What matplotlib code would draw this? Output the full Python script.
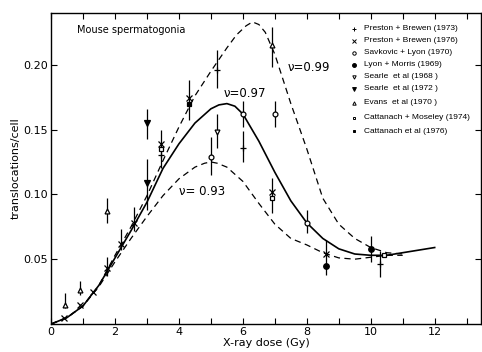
import matplotlib
matplotlib.use("Agg")
import matplotlib.pyplot as plt

# model curves (dose in Gy, translocations/cell)
dose_99 = [0, 0.5, 1, 1.5, 2, 2.5, 3, 3.5, 4, 4.5, 5, 5.5, 5.8, 6.1, 6.3, 6.5, 6.7, 7, 7.5, 8, 8.5, 9, 9.5, 10, 10.5, 11]
trans_99 = [0, 0.005, 0.014, 0.030, 0.053, 0.075, 0.099, 0.126, 0.152, 0.176, 0.195, 0.213, 0.223, 0.230, 0.233, 0.231, 0.225, 0.208, 0.170, 0.135, 0.097, 0.077, 0.066, 0.059, 0.055, 0.054]

dose_97 = [0, 0.5, 1, 1.5, 2, 2.5, 3, 3.5, 4, 4.5, 5, 5.25, 5.5, 5.75, 6, 6.5, 7, 7.5, 8, 8.5, 9, 9.5, 10, 10.5, 11, 11.5, 12]
trans_97 = [0, 0.005, 0.014, 0.030, 0.051, 0.072, 0.094, 0.120, 0.139, 0.155, 0.166, 0.169, 0.170, 0.168, 0.162, 0.141, 0.117, 0.095, 0.078, 0.066, 0.058, 0.054, 0.053, 0.053, 0.055, 0.057, 0.059]

dose_93 = [0, 0.5, 1, 1.5, 2, 2.5, 3, 3.5, 4, 4.5, 4.8, 5, 5.2, 5.5, 6, 6.5, 7, 7.5, 8, 8.5, 9, 9.5, 10, 10.5, 11]
trans_93 = [0, 0.005, 0.014, 0.029, 0.048, 0.066, 0.083, 0.099, 0.112, 0.121, 0.124, 0.125, 0.124, 0.121, 0.110, 0.093, 0.077, 0.066, 0.061, 0.055, 0.051, 0.050, 0.0515, 0.053, 0.053]

# error bars: dose, low, high
err_dose = [0.45, 0.9, 1.75, 1.75, 2.2, 2.6, 3.0, 3.0, 3.45, 4.3, 5.0, 5.2, 5.2, 6.0, 6.0, 6.9, 7.0, 6.9, 8.0, 8.6, 10.0, 10.3]
err_low = [0.012, 0.022, 0.078, 0.037, 0.057, 0.072, 0.143, 0.088, 0.120, 0.157, 0.115, 0.182, 0.136, 0.152, 0.125, 0.198, 0.152, 0.086, 0.070, 0.038, 0.048, 0.036]
err_high = [0.024, 0.033, 0.097, 0.052, 0.073, 0.090, 0.166, 0.127, 0.150, 0.188, 0.144, 0.211, 0.162, 0.172, 0.149, 0.229, 0.172, 0.113, 0.088, 0.065, 0.068, 0.056]

# data points per study
pb73_x = [3.45, 5.2, 6.0, 10.3]
pb73_y = [0.130, 0.196, 0.136, 0.046]
pb76_x = [0.4, 0.9, 1.3, 1.75, 2.2, 2.6, 3.45, 4.3, 6.9, 8.6]
pb76_y = [0.005, 0.0146, 0.025, 0.043, 0.062, 0.078, 0.139, 0.174, 0.102, 0.054]
sav_x = [5.0, 6.0, 7.0, 8.0]
sav_y = [0.129, 0.162, 0.162, 0.078]
lyon_x = [8.6, 10.0]
lyon_y = [0.045, 0.0577]
s68_x = [5.2]
s68_y = [0.148]
s72_x = [3.0, 3.0]
s72_y = [0.155, 0.109]
evans_x = [0.45, 0.9, 1.75, 6.9]
evans_y = [0.015, 0.026, 0.087, 0.215]
cm74_x = [3.45, 6.9, 10.4]
cm74_y = [0.135, 0.097, 0.053]
c76_x = [4.3]
c76_y = [0.170]

legend_labels = [
    "Preston + Brewen (1973)",
    "Preston + Brewen (1976)",
    "Savkovic + Lyon (1970)",
    "Lyon + Morris (1969)",
    "Searle  et al (1968 )",
    "Searle  et al (1972 )",
    "Evans  et al (1970 )",
    "Cattanach + Moseley (1974)",
    "Cattanach et al (1976)",
]

fig = plt.figure(figsize=(4.82, 3.52), dpi=100)
ax = fig.add_axes([0.106, 0.0795, 0.892, 0.884])

ax.plot(dose_99, trans_99, color="black", lw=0.9, dashes=(5, 3.5))
ax.plot(dose_97, trans_97, color="black", lw=1.2)
ax.plot(dose_93, trans_93, color="black", lw=0.9, dashes=(5, 3.5))

ax.vlines(err_dose, err_low, err_high, color="black", lw=0.9)

styles = [
    (pb73_x, pb73_y, "+", "black", 5),
    (pb76_x, pb76_y, "x", "black", 4),
    (sav_x, sav_y, "o", "white", 3.5),
    (lyon_x, lyon_y, "o", "black", 4),
    (s68_x, s68_y, "v", "white", 3.5),
    (s72_x, s72_y, "v", "black", 4),
    (evans_x, evans_y, "^", "white", 3.5),
    (cm74_x, cm74_y, "s", "white", 3),
    (c76_x, c76_y, "s", "black", 3),
]
for xs, ys, m, fc, ms in styles:
    ax.plot(xs, ys, ls="none", marker=m, mfc=fc, mec="black", color="black", ms=ms, mew=0.9)

# legend drawn by hand, as in the original
leg_y = [0.2277, 0.2185, 0.2092, 0.2000, 0.1908, 0.1815, 0.1708, 0.1592, 0.1485]
for (xs, ys, m, fc, ms), lab, ly in zip(styles, legend_labels, leg_y):
    ax.plot([9.47], [ly], ls="none", marker=m, mfc=fc, mec="black", ms=ms * 0.7, mew=0.7)
    ax.text(9.78, ly, lab, fontsize=6, family="Liberation Sans", va="center", ha="left")

ax.text(0.8, 0.2265, "Mouse spermatogonia", fontsize=7, va="center")
ax.text(5.4, 0.178, "ν=0.97", fontsize=8.5, va="center")
ax.text(7.4, 0.198, "ν=0.99", fontsize=8.5, va="center")
ax.text(4.0, 0.1025, "ν= 0.93", fontsize=8.5, va="center")

ax.set_xlim(0, 13.45)
ax.set_ylim(0, 0.24)
ax.set_xticks(range(0, 14))
ax.set_xticklabels([str(i) if i % 2 == 0 and i <= 12 else "" for i in range(0, 14)])
ax.set_yticks([0.05, 0.10, 0.15, 0.20])
ax.set_yticklabels(["0.05", "0.10", "0.15", "0.20"])
ax.tick_params(direction="in", top=True, right=True, length=4, width=0.8, labelsize=8, pad=2)
for s in ax.spines.values():
    s.set_linewidth(1.0)

ax.set_xlabel("X-ray dose (Gy)", fontsize=8, labelpad=1)
ax.set_ylabel("translocations/cell", fontsize=8, labelpad=2)

fig.savefig("out.png", dpi=100)
